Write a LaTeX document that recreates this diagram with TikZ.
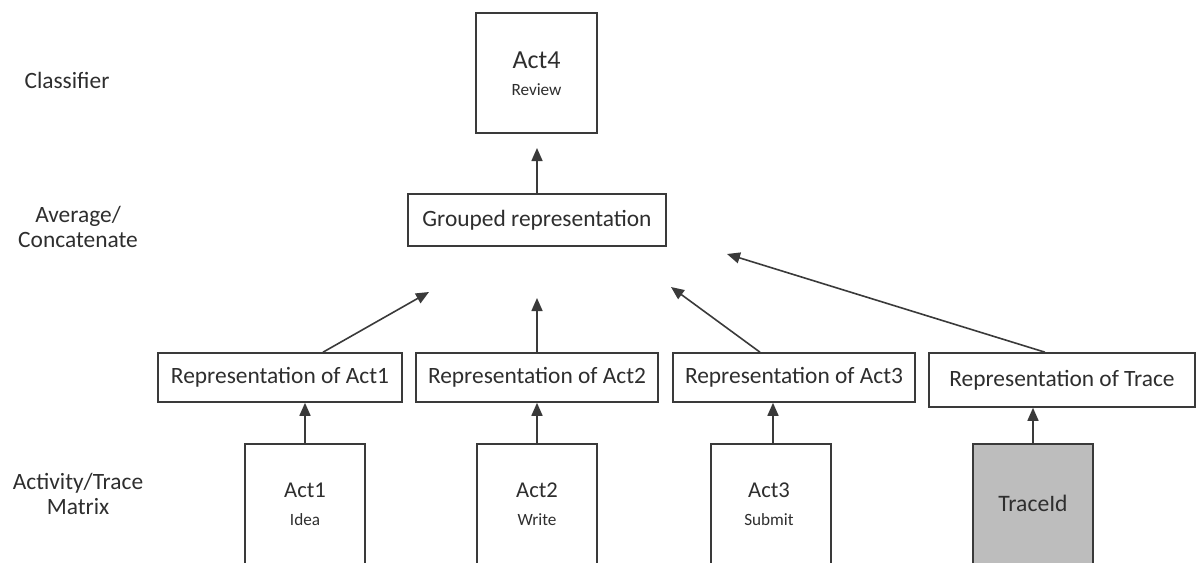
\documentclass[tikz,border=0pt]{standalone}
\usepackage{fontspec}
\setmainfont{Carlito}
\usetikzlibrary{arrows.meta,calc}

\definecolor{ink}{HTML}{3A3A3A}
\definecolor{txt}{HTML}{2E2E2E}
\definecolor{shade}{HTML}{BDBDBD}

\tikzset{
  box/.style={draw=ink, line width=0.8pt, fill=white, rectangle, inner sep=0pt},
  repbox/.style={box, minimum height=24.5pt, font=\fontsize{11.7}{13}\selectfont, text=txt},
  actbox/.style={box, minimum width=60pt, minimum height=70pt, anchor=north},
  big/.style={font=\fontsize{11.3}{13}\selectfont, text=txt, inner sep=0pt},
  small/.style={font=\fontsize{8.6}{10}\selectfont, text=txt, inner sep=0pt},
  lvl/.style={font=\fontsize{11.7}{14}\selectfont, text=txt, align=center, inner sep=0pt},
  arr/.style={draw=ink, line width=0.8pt, -{Triangle[length=6.5pt,width=5.5pt]}},
}

\begin{document}
\begin{tikzpicture}[x=0.5pt, y=-0.5pt]
\useasboundingbox (0,0) rectangle (1196,563);
\clip (0,0) rectangle (1196,563);

% level captions
\node[lvl] (capCls) at (67,80) {Classifier};
\node[lvl] (capAvg) at (78,227) {Average/\\[-1.5pt]Concatenate};
\node[lvl] (capMat) at (78,494) {Activity/Trace\\[-1.5pt]Matrix};

% classifier output
\node[box, minimum width=60.5pt, minimum height=60pt] (act4) at (536.5,73) {};
\node[font=\fontsize{13}{15}\selectfont, text=txt, inner sep=0pt] (act4t) at (536.5,60) {Act4};
\node[small] (act4s) at (536.5,90) {Review};

% grouped representation
\node[repbox, minimum width=129pt, minimum height=26pt] (grp) at (537,220) {Grouped representation};

% per-item representations
\node[repbox, minimum width=122pt] (rep1) at (280,377.5) {Representation of Act1};
\node[repbox, minimum width=121pt] (rep2) at (537,377.5) {Representation of Act2};
\node[repbox, minimum width=121pt] (rep3) at (794,377.5) {Representation of Act3};
\node[repbox, minimum width=133pt, minimum height=27pt] (repT) at (1062,380) {Representation of Trace};

% activity / trace matrix entries
\node[actbox] (act1) at (305,443) {};
\node[actbox] (act2) at (537,443) {};
\node[actbox] (act3) at (771,443) {};
\node[actbox, fill=shade] (trace) at (1033,443) {};

\node[big] (act1t) at (305,490) {Act1};
\node[small] (act1s) at (305,520) {Idea};
\node[big] (act2t) at (537,490) {Act2};
\node[small] (act2s) at (537,520) {Write};
\node[big] (act3t) at (769,490) {Act3};
\node[small] (act3s) at (769,520) {Submit};
\node[big, font=\fontsize{11.8}{13}\selectfont] (tracet) at (1033,503) {TraceId};

% free arrow ends below the grouped representation and the classifier
\coordinate (tip1) at (429,292);
\coordinate (tip2) at (537,298);
\coordinate (tip3) at (671,287);
\coordinate (tipT) at (727,254);
\coordinate (tipG) at (537,148);

% matrix -> representations
\draw[arr] (act1.north) -- (rep1.south -| act1.north);
\draw[arr] (act2.north) -- (rep2.south -| act2.north);
\draw[arr] ($(act3.north)+(2,0)$) -- ($(rep3.south -| act3.north)+(2,0)$);
\draw[arr] (trace.north) -- (repT.south -| trace.north);

% representations -> grouped
\draw[arr] ($(rep1.north)+(43,0)$) -- (tip1);
\draw[arr] (rep2.north) -- (tip2);
\draw[arr] ($(rep3.north)+(-34,0)$) -- (tip3);
\draw[arr] ($(repT.north)+(-17,0)$) -- (tipT);

% grouped -> classifier
\draw[arr] (grp.north) -- (tipG);
\end{tikzpicture}
\end{document}
